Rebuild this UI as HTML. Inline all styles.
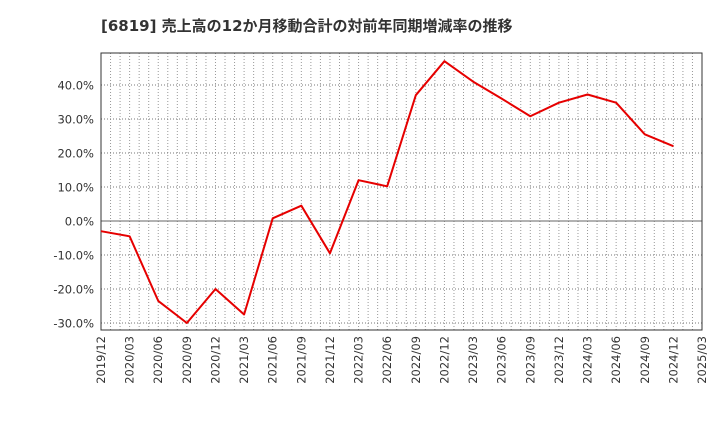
<!DOCTYPE html>
<html><head><meta charset="utf-8"><style>
body{margin:0;background:#fff;font-family:"DejaVu Sans","Noto Sans CJK JP",sans-serif;}
</style></head><body>
<svg width="720" height="440" id="c" xmlns="http://www.w3.org/2000/svg">
<text x="101" y="31" font-size="15" font-weight="bold" fill="#333" font-family="DejaVu Sans, Noto Sans CJK JP, sans-serif">[6819]  売上高の12か月移動合計の対前年同期増減率の推移</text>
<g id="grid"></g><g id="axes"></g><g id="series"></g>
</svg>
<script>
const categories=["2019/12","2020/03","2020/06","2020/09","2020/12","2021/03","2021/06","2021/09","2021/12","2022/03","2022/06","2022/09","2022/12","2023/03","2023/06","2023/09","2023/12","2024/03","2024/06","2024/09","2024/12","2025/03"];
const values=[-3,-4.5,-23.5,-30,-20,-27.5,0.8,4.5,-9.5,12,10.2,37,47,41,36,30.8,34.8,37.2,34.8,25.5,22];
const yTicks=[-30,-20,-10,0,10,20,30,40];
const yTickLabels=["-30.0%","-20.0%","-10.0%","0.0%","10.0%","20.0%","30.0%","40.0%"];
const NS="http://www.w3.org/2000/svg";
const L=101,R=702,T=53,B=330;
const x=i=>L+(R-L)*i/(categories.length-1);
const y=v=>221-v*3.4;
function mk(tag,attrs,parent){const e=document.createElementNS(NS,tag);for(const k in attrs)e.setAttribute(k,attrs[k]);parent.appendChild(e);return e;}
const grid=document.getElementById('grid'),axes=document.getElementById('axes'),series=document.getElementById('series');
for(let m=1;m<(categories.length-1)*3;m++){
 const xx=L+(R-L)*m/((categories.length-1)*3);
 const g=mk('line',{x1:xx,x2:xx,y1:T,y2:B,stroke:'#999','stroke-width':1,'stroke-dasharray':'1,2'},grid);
 
 
}
yTicks.forEach((v,i)=>{
 const yy=y(v);
 const g=mk('line',{x1:L,x2:R,y1:yy,y2:yy,stroke:v===0?'#666':'#777','stroke-width':1,'stroke-dasharray':v===0?'':'1,2'},grid);
 
 
 const t=mk('text',{x:L-7,y:yy+4.5,'text-anchor':'end','font-size':11.5,fill:'#333'},axes);
 t.textContent=yTickLabels[i];
 
 
});
categories.forEach((c,i)=>{
 const t=mk('text',{transform:`translate(${x(i)+4},${B+6}) rotate(-90)`,'text-anchor':'end','font-size':11.5,fill:'#333'},axes);
 t.textContent=c;
 
 
});
const f=mk('rect',{x:L,y:T,width:R-L,height:B-T,fill:'none',stroke:'#333','stroke-width':1},axes);


const p=mk('polyline',{points:values.map((v,i)=>x(i)+','+y(v)).join(' '),fill:'none',stroke:'#e60000','stroke-width':2,'stroke-linejoin':'round'},series);


</script>
</body></html>
